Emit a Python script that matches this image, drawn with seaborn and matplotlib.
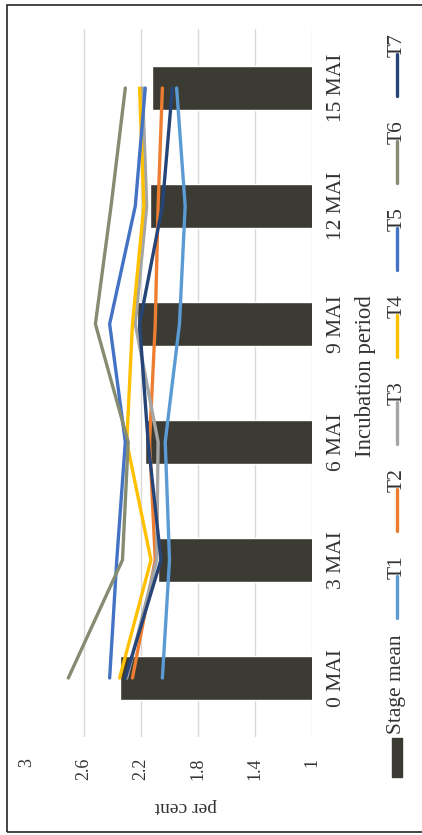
import matplotlib
matplotlib.use("Agg")
import matplotlib.pyplot as plt
from matplotlib.lines import Line2D
from matplotlib.patches import Rectangle
import seaborn as sns
import pandas as pd

# Incubation stages and the stage mean (per cent)
stages = ["0 MAI", "3 MAI", "6 MAI", "9 MAI", "12 MAI", "15 MAI"]
stage_mean = [2.35, 2.08, 2.17, 2.23, 2.14, 2.12]

# Treatment series (per cent) for each stage
T1 = [2.05, 2.00, 2.03, 1.93, 1.89, 1.95]
T2 = [2.26, 2.10, 2.14, 2.10, 2.08, 2.05]
T3 = [2.30, 2.09, 2.08, 2.24, 2.16, 2.19]
T4 = [2.35, 2.13, 2.30, 2.26, 2.18, 2.21]
T5 = [2.42, 2.37, 2.31, 2.42, 2.24, 2.17]
T6 = [2.71, 2.33, 2.29, 2.52, 2.41, 2.31]
T7 = [2.31, 2.06, 2.15, 2.21, 2.05, 1.98]

series_names = ["T1", "T2", "T3", "T4", "T5", "T6", "T7"]
series_values = [T1, T2, T3, T4, T5, T6, T7]
series_colors = ["#5B9BD5", "#ED7D31", "#A5A5A5", "#FFC000",
                 "#4472C4", "#858C72", "#264478"]
bar_color = "#3b3b33"

value_ticks = [1, 1.4, 1.8, 2.2, 2.6, 3]
tick_labels = ["1", "1.4", "1.8", "2.2", "2.6", "3"]

SERIF = "Liberation Serif"
TXT = "#333333"
W, H = 422, 835

sns.set_theme(style="white")
plt.rcParams["font.family"] = [SERIF, "DejaVu Serif"]

fig = plt.figure(figsize=(W / 100, H / 100), dpi=100)
fig.patch.set_facecolor("white")


def fx(px):
    return px / W


def fy(py):
    return 1 - py / H


ax_left, ax_right, ax_top, ax_bottom = 27, 312, 29, 737
ax = fig.add_axes([fx(ax_left), fy(ax_bottom),
                   fx(ax_right - ax_left), (ax_bottom - ax_top) / H])
ax.set_facecolor("white")

# Value gridlines (the top value has none)
for v in value_ticks[:-1]:
    ax.axvline(v, color="#d9d9d9", linewidth=1.0, zorder=0)

# Stage means as horizontal bars, latest stage at the top
order = stages[::-1]
bars_df = pd.DataFrame({"stage": stages, "value": stage_mean})
sns.barplot(data=bars_df, x="value", y="stage", order=order, orient="h",
            color=bar_color, width=0.38, saturation=1, ax=ax, zorder=2)

# Treatment lines on the same category positions
pos = {s: order.index(s) for s in stages}
rows = []
for name, vals in zip(series_names, series_values):
    for s, v in zip(stages, vals):
        rows.append({"series": name, "pos": pos[s], "value": v})
lines_df = pd.DataFrame(rows)
sns.lineplot(data=lines_df, x="value", y="pos", hue="series",
             hue_order=series_names,
             palette=dict(zip(series_names, series_colors)),
             orient="y", linewidth=2.4, legend=False, ax=ax, zorder=3)

ax.set_xlim(3, 1)
ax.set_ylim(len(stages) - 0.5, -0.5)
ax.set_xticks(value_ticks)
ax.set_xticklabels(tick_labels, rotation=90, fontsize=13, color=TXT,
                   va="top", ha="center", fontfamily=SERIF)
ax.set_yticks(range(len(order)))
ax.set_yticklabels(order, rotation=90, fontsize=15.5, color=TXT,
                   ha="left", va="center", fontfamily=SERIF)
ax.yaxis.tick_right()
ax.tick_params(axis="x", length=0, pad=15)
ax.tick_params(axis="y", length=0, pad=10.5)
ax.set_xlabel("")
ax.set_ylabel("")
ax.grid(False)
for sp in ax.spines.values():
    sp.set_visible(False)

# Axis titles
fig.text(fx(186), fy(807), "per cent", rotation=180, ha="center",
         va="center", fontsize=14, color=TXT, fontfamily=SERIF)
fig.text(fx(365), fy(376), "Incubation period", rotation=90, ha="center",
         va="center", fontsize=16.5, color=TXT, fontfamily=SERIF)

# Legend, read bottom to top
lx = fx(397)
fig.add_artist(Rectangle((fx(392), fy(777)), fx(10), (777 - 738) / H,
                         transform=fig.transFigure, color=bar_color))
fig.text(lx, fy(734), "Stage mean", rotation=90, ha="center", va="bottom",
         fontsize=15.5, color=TXT, fontfamily=SERIF)
step = 87
for i, (name, col) in enumerate(zip(series_names, series_colors)):
    line_bottom = 618 - i * step
    line_top = line_bottom - 42
    fig.add_artist(Line2D([lx, lx], [fy(line_bottom), fy(line_top)],
                          transform=fig.transFigure, color=col, lw=2.4))
    fig.text(lx, fy(line_top + 3), name, rotation=90, ha="center",
             va="bottom", fontsize=15.5, color=TXT, fontfamily=SERIF)

# Chart frame
fig.add_artist(Rectangle((fx(7), fy(832)), fx(W), (832 - 5) / H,
                         transform=fig.transFigure, fill=False,
                         edgecolor="#262626", linewidth=1.2))

fig.savefig("out.png", dpi=100, facecolor="white")
